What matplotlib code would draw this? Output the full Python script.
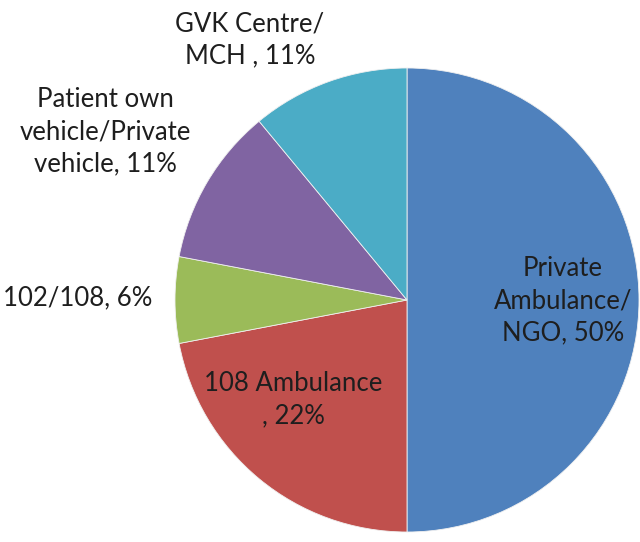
import matplotlib
matplotlib.use("Agg")
import matplotlib.pyplot as plt

categories = ["Private\nAmbulance/\nNGO, 50%", "108 Ambulance\n, 22%", "102/108, 6%",
              "Patient own\nvehicle/Private\nvehicle, 11%", "GVK Centre/\nMCH , 11%"]
values = [50, 22, 6, 11, 11]
colors = ["#4F81BD", "#C0504D", "#9BBB59", "#8064A2", "#4BACC6"]
# label positions in pixel coordinates of the reference image (center of text)
label_px = [(563, 301), (293, 400), (78, 298), (105, 132), (250, 40)]

W, H = 640, 542
cx, cy, r = 407, 300, 232

fig = plt.figure(figsize=(W / 100, H / 100), dpi=100)
ax = fig.add_axes([(cx - r) / W, (H - cy - r) / H, 2 * r / W, 2 * r / H])
ax.pie(values, colors=colors, startangle=90, counterclock=False, radius=1,
       wedgeprops=dict(edgecolor="#f0f0f0", linewidth=0.6))
ax.set_xlim(-1, 1)
ax.set_ylim(-1, 1)
ax.set_aspect("equal")
ax.axis("off")

for lab, (px, py) in zip(categories, label_px):
    ax.text((px - cx) / r, (cy - py) / r, lab, ha="center", va="center",
            fontsize=18.5, family=["Lato", "DejaVu Sans"], color="#1e1e1e",
            linespacing=1.36, clip_on=False)

fig.savefig("out.png", dpi=100)
